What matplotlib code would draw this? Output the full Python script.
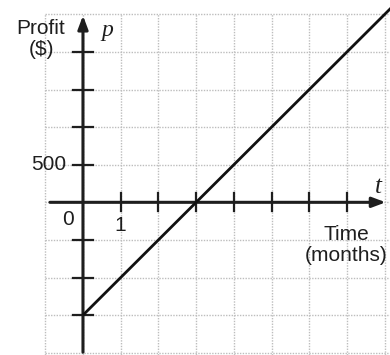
import numpy as np
import matplotlib
matplotlib.use("Agg")
import matplotlib.pyplot as plt

# profit p = 500 t - 1500
t_vals = [0, 8.2]
p_vals = [-1500, 2600]

x_ticks = [1, 2, 3, 4, 5, 6, 7]
y_ticks = [-1500, -1000, -500, 500, 1000, 1500, 2000]
grid_x = [-1, 0, 1, 2, 3, 4, 5, 6, 7, 8]
grid_y = [-2000, -1500, -1000, -500, 0, 500, 1000, 1500, 2000, 2500]

font = ["Liberation Sans", "DejaVu Sans"]
serif = ["Liberation Serif", "DejaVu Serif"]
ink = "#1e1e1e"

fig = plt.figure(figsize=(3.9, 3.55), dpi=100)
ax = fig.add_axes([0, 0, 1, 1])
ax.set_xlim(-2.2, 8.14)
ax.set_ylim(-2030, 2690)
ax.axis("off")

# dotted grid
gcol = "#bdbdbd"
for gx in grid_x:
    ax.plot([gx, gx], [-2030, 2500], color=gcol, lw=1, ls=(0, (1, 1)), zorder=1)
for gy in grid_y:
    ax.plot([-1, 8.14], [gy, gy], color=gcol, lw=1, ls=(0, (1, 1)), zorder=1)

# axes with arrows
ax.annotate("", xy=(8.1, 0), xytext=(-0.95, 0),
            arrowprops=dict(arrowstyle="-|>,head_length=0.8,head_width=0.3", color=ink, lw=2.2))
ax.annotate("", xy=(0, 2520), xytext=(0, -2030),
            arrowprops=dict(arrowstyle="-|>,head_length=0.8,head_width=0.3", color=ink, lw=2.2))

# tick marks
for tx in x_ticks:
    ax.plot([tx, tx], [-120, 120], color=ink, lw=1.6, zorder=3)
for ty in y_ticks:
    ax.plot([-0.27, 0.27], [ty, ty], color=ink, lw=1.6, zorder=3)

# profit line
ax.plot(t_vals, p_vals, color="#111111", lw=2, zorder=4, solid_capstyle="butt")

ax.text(-1.11, 2170, "Profit\n($)", family=font, fontsize=15, ha="center", va="center",
        linespacing=1.1, color=ink)
ax.text(0.64, 2290, "p", family=serif, style="italic", fontsize=17, ha="center",
        va="center", color=ink)
ax.text(-0.45, 500, "500", family=font, fontsize=15, ha="right", va="center", color=ink)
ax.text(-0.4, -230, "0", family=font, fontsize=15, ha="center", va="center", color=ink)
ax.text(0.98, -310, "1", family=font, fontsize=15, ha="center", va="center", color=ink)
ax.text(7.82, 200, "t", family=serif, style="italic", fontsize=18, ha="center",
        va="center", color=ink)
ax.text(6.98, -570, "Time\n(months)", family=font, fontsize=15, ha="center", va="center",
        linespacing=1.1, color=ink)

fig.savefig("out.png", dpi=100)
